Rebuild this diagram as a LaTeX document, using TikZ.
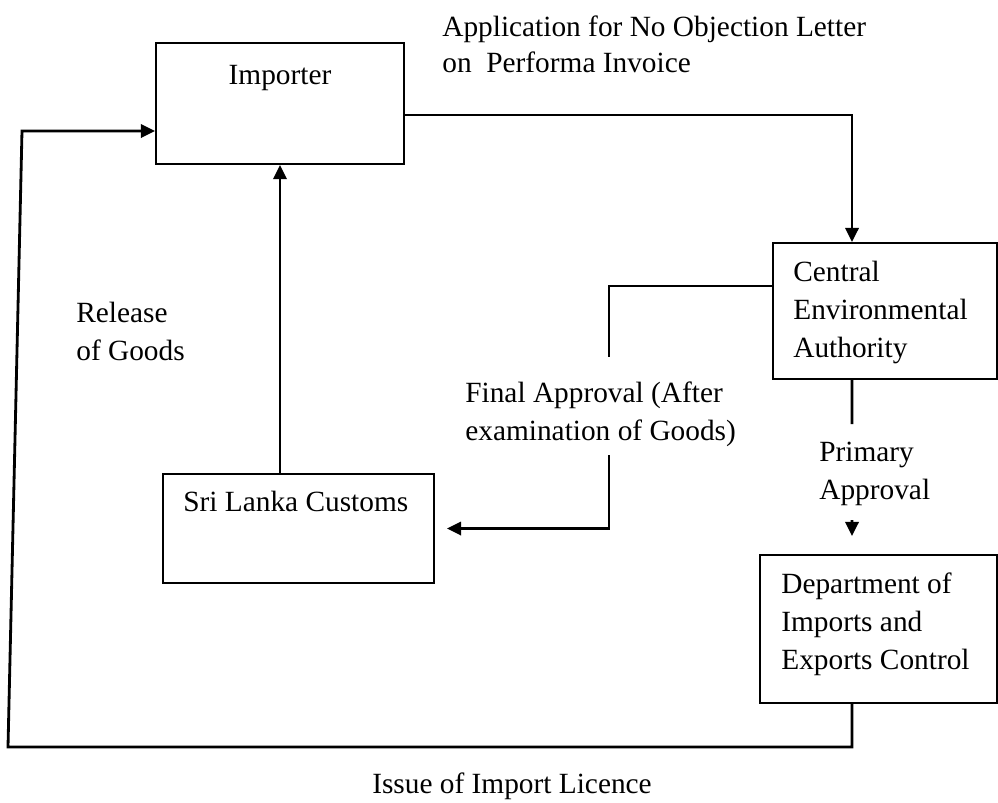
\documentclass[tikz,border=0pt]{standalone}
\usepackage{fontspec}
\setmainfont{Liberation Serif}
\usetikzlibrary{arrows.meta,fit}

\begin{document}
\begin{tikzpicture}[x=0.02cm,y=-0.02cm,line join=miter,>={Triangle[length=8pt,width=7.5pt]}]
	\tikzset{box/.style={draw,line width=1.1pt,inner sep=0pt},
		txt/.style={font=\fontsize{16.7}{21.5}\selectfont,align=left,anchor=base west,inner sep=0pt},
		wire/.style={line width=1.6pt},
		conn/.style={wire,->}}
	\useasboundingbox (0,0) rectangle (998,802);
	% boxes
	\node[box,fit={(156,43) (404,164)}] (imp) {};
	\node[box,fit={(773,243) (997,379)}] (cea) {};
	\node[box,fit={(163,474) (434,583)}] (slc) {};
	\node[box,fit={(760,555) (997,703)}] (diec) {};
	% texts (anchored on the baseline of their last line)
	\node[txt,anchor=base] (impT) at (280,84) {Importer};
	\node[txt] (ceaT) at (793,357) {Central\\Environmental\\Authority};
	\node[txt] (slcT) at (183,511) {Sri Lanka Customs};
	\node[txt] (diecT) at (781,669) {Department of\\Imports and\\Exports Control};
	\node[txt,font=\fontsize{16.7}{20}\selectfont] (appT) at (442,72) {Application for No Objection Letter\\on\ \ Performa Invoice};
	\node[txt] (relT) at (76,360) {Release\\of Goods};
	\node[txt] (finT) at (465,440) {Final Approval (After\\examination of Goods)};
	\node[txt] (priT) at (819,499) {Primary\\Approval};
	\node[txt,anchor=base] (issT) at (512,793) {Issue of Import Licence};
	% free ends
	\coordinate (finTop) at (609,357);
	\coordinate (finBot) at (609,455);
	\coordinate (priTop) at (852,424);
	\coordinate (priArr) at (852,520);
	\coordinate (issL) at (8,747);
	\coordinate (issLT) at (22,131);
	% connectors
	\draw[conn] ([yshift=-0.23cm]imp.east) -| ([xshift=-0.66cm]cea.north);
	\draw[wire] ([yshift=0.5cm]cea.west) -| (finTop);
	\draw[conn] (finBot) |- ([xshift=0.24cm]slc.east);
	\draw[wire] ([xshift=-0.66cm]cea.south) -- (priTop);
	\draw[conn] (priArr) -- ([xshift=-0.53cm,yshift=0.36cm]diec.north);
	\draw[conn] ([xshift=-0.53cm]diec.south) |- (issL) -- (issLT) -- (issLT -| imp.west);
	\draw[conn] (slc.north -| imp.south) -- (imp.south);
\end{tikzpicture}
\end{document}
